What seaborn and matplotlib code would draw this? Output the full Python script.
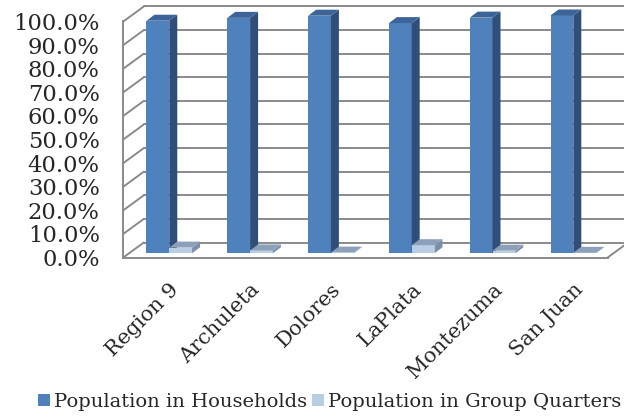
import numpy as np
import pandas as pd
import matplotlib
matplotlib.use("Agg")
import matplotlib.pyplot as plt
from matplotlib.patches import Polygon, Rectangle
import seaborn as sns

# Share of population living in households vs. group quarters
counties = ["Region 9", "Archuleta", "Dolores", "LaPlata", "Montezuma", "San Juan"]
households = [97.6, 98.8, 99.7, 96.6, 98.9, 99.8]
group_quarters = [2.4, 1.2, 0.3, 3.4, 1.1, 0.2]
series_names = ["Population in Households", "Population in Group Quarters"]
y_ticks = list(range(0, 101, 10))

df = pd.DataFrame({
    "county": counties * 2,
    "series": [series_names[0]] * len(counties) + [series_names[1]] * len(counties),
    "share": households + group_quarters,
})

sns.set_style("white")
plt.rcParams["font.family"] = ["DejaVu Serif"]

W, H = 624, 417
fig = plt.figure(figsize=(W / 100, H / 100), dpi=100)

grid_col = "#8a8a8a"
front_col = {series_names[0]: "#4F81BD", series_names[1]: "#B9CDE5"}
side_col = {series_names[0]: "#2F4F78", series_names[1]: "#7C8FA8"}
top_col = {series_names[0]: "#3C6499", series_names[1]: "#8DA0B9"}


def fig_rect(left, top, right, bottom):
    return [left / W, (H - bottom) / H, (right - left) / W, (bottom - top) / H]


# Front plane: value axis, floor edge and category ticks
fax = fig.add_axes(fig_rect(123.3, 21.5, 607.7, 257.5))
fax.set_xlim(0, 6)
fax.set_ylim(0, 100)
fax.patch.set_alpha(0)
for s in ["top", "right"]:
    fax.spines[s].set_visible(False)
for s in ["left", "bottom"]:
    fax.spines[s].set_color(grid_col)
    fax.spines[s].set_linewidth(1.4)
fax.set_yticks(y_ticks)
fax.set_yticklabels([f"{v:.1f}%" for v in y_ticks], fontsize=16.3)
fax.set_xticks(range(7))
fax.set_xticklabels([])
fax.tick_params(axis="y", direction="out", length=5, width=1.4, color=grid_col, pad=12)
fax.tick_params(axis="x", direction="out", length=3.6, width=1.4, color=grid_col)

# Depth of the chart box (side wall and back wall)
ddx, ddy = 20.5 / 80.73, 15.0 / 2.36
for v in y_ticks:
    fax.plot([0, ddx], [v, v + ddy], color=grid_col, lw=1.4, clip_on=False, zorder=1)
    fax.plot([ddx, 6.6], [v + ddy, v + ddy], color=grid_col, lw=1.4, clip_on=False, zorder=1)
fax.plot([6, 6 + ddx], [0, ddy], color=grid_col, lw=1.4, clip_on=False, zorder=1)

# Bar plane
bax = fig.add_axes(fig_rect(120.8, 15.0, 621.8, 253.3))
bax.patch.set_alpha(0)
sns.barplot(data=df, x="county", y="share", hue="series", hue_order=series_names,
            palette=[front_col[n] for n in series_names], saturation=1,
            width=0.564, gap=0, linewidth=0, legend=False, ax=bax)
bax.set_xlim(-0.6, 5.6)
bax.set_ylim(0, 100)
for s in bax.spines.values():
    s.set_visible(False)
bax.set_yticks([])
bax.set_xlabel("")
bax.set_ylabel("")
bax.tick_params(axis="x", length=0, pad=19)
plt.setp(bax.get_xticklabels(), rotation=45, ha="right", rotation_mode="anchor", fontsize=15)

# Give each bar its side and top faces
bdx, bdy = 8 / 80.8, 6 / 2.383
n = len(counties)
for k, bar in enumerate(bax.patches[: 2 * n]):
    name = series_names[k // n]
    z = 2 if k < n else 3
    bar.set_zorder(z)
    bar.set_clip_on(False)
    x, w, h = bar.get_x(), bar.get_width(), bar.get_height()
    side = Polygon([(x + w, 0), (x + w + bdx, bdy), (x + w + bdx, h + bdy), (x + w, h)],
                   closed=True, facecolor=side_col[name], edgecolor="none", zorder=z,
                   clip_on=False)
    top = Polygon([(x, h), (x + bdx, h + bdy), (x + w + bdx, h + bdy), (x + w, h)],
                  closed=True, facecolor=top_col[name], edgecolor="none", zorder=z,
                  clip_on=False)
    bax.add_patch(side)
    bax.add_patch(top)

# Legend along the bottom
handles = [Rectangle((0, 0), 1, 1, facecolor=front_col[nm], edgecolor="none") for nm in series_names]
fig.legend(handles, series_names, loc="lower left", bbox_to_anchor=(38 / W, 6 / H),
           ncol=2, frameon=False, fontsize=14, handlelength=0.62, handleheight=0.62,
           handletextpad=0.2, columnspacing=0.25, borderpad=0, borderaxespad=0)

fig.savefig("out.png", dpi=100)
